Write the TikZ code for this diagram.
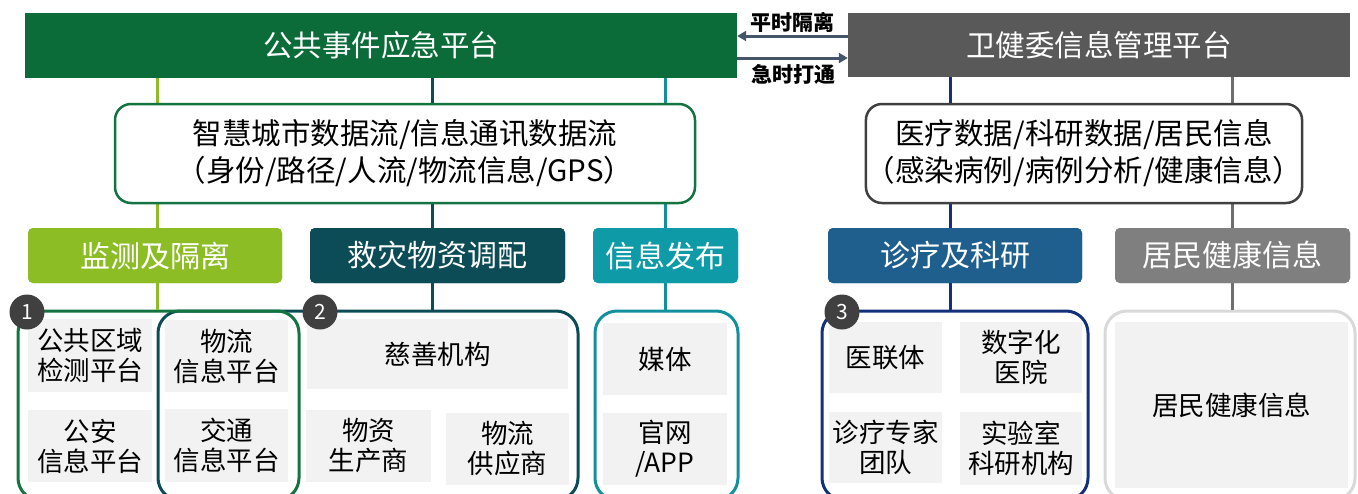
\documentclass[tikz,border=0pt]{standalone}
\usepackage{fontspec}
\setmainfont{Noto Sans CJK SC}
\usetikzlibrary{arrows.meta}
\definecolor{topgreen}{HTML}{0B6C3A}
\definecolor{topgrey}{HTML}{595959}
\definecolor{catlg}{HTML}{8CBD24}
\definecolor{catdt}{HTML}{0C4C56}
\definecolor{catteal}{HTML}{0E9AA7}
\definecolor{catblue}{HTML}{1E5F8E}
\definecolor{catgrey}{HTML}{7F7F7F}
\definecolor{gOne}{HTML}{137442}
\definecolor{gInfo}{HTML}{13909D}
\definecolor{gThree}{HTML}{13307A}
\definecolor{gRes}{HTML}{D9D9D9}
\definecolor{arrcol}{HTML}{44546A}
\definecolor{circ}{HTML}{404040}
\definecolor{cellfill}{HTML}{F2F2F2}
\definecolor{lineres}{HTML}{6E6E6E}
\begin{document}
\begin{tikzpicture}[x=1pt,y=-1pt,
  bar/.style={minimum height=65, inner sep=0, text=white, font=\fontsize{29.5}{34}\selectfont},
  cat/.style={rounded corners=5, minimum height=55, inner sep=0, text=white, font=\fontsize{30}{34}\selectfont},
  dbox/.style={draw, fill=white, line width=2.5, rounded corners=16, minimum height=99, inner sep=0, align=center, font=\fontsize{29.5}{37}\selectfont},
  grp/.style={draw, line width=3, rounded corners=22, inner sep=0},
  cell/.style={fill=cellfill, inner sep=0, align=center, font=\fontsize{26.5}{30}\selectfont},
  num/.style={circle, fill=circ, minimum size=35, inner sep=0, text=white, font=\fontsize{21}{21}\selectfont},
  vline/.style={line width=3},
  arr/.style={line width=3, draw=arrcol, -{Triangle[length=9,width=10]}},
  lbl/.style={inner sep=0, font=\bfseries\fontsize{21}{22}\selectfont}
]
\useasboundingbox (0,0) rectangle (1358,493);
\begin{scope}
\clip (0,0) rectangle (1358,493);
% anchors for vertical lines
\coordinate (x1) at (157,0);
\coordinate (x2) at (432,0);
\coordinate (x3) at (665,0);
\coordinate (x4) at (950,0);
\coordinate (x5) at (1232,0);
% bars
\node[bar, fill=topgreen, minimum width=712] (top) at (381,45.5) {公共事件应急平台};
\node[bar, fill=topgrey, minimum width=502, minimum height=64] (wjw) at (1099,45) {卫健委信息管理平台};
% category boxes
\node[cat, fill=catlg, minimum width=254] (c1) at (155,255.5) {监测及隔离};
\node[cat, fill=catdt, minimum width=255] (c2) at (437.5,255.5) {救灾物资调配};
\node[cat, fill=catteal, minimum width=145] (c3) at (665.5,255.5) {信息发布};
\node[cat, fill=catblue, minimum width=254] (c4) at (955,255.5) {诊疗及科研};
\node[cat, fill=catgrey, minimum width=235] (c5) at (1232.5,255.5) {居民健康信息};
% groups
\node[grp, draw=catdt, minimum width=420, minimum height=189] (g2) at (368,405.5) {};
\node[grp, draw=gOne, minimum width=281, minimum height=189] (g1) at (158.5,405.5) {};
\node[grp, draw=gInfo, minimum width=143, minimum height=189] (g3) at (666.5,405.5) {};
\node[grp, draw=gThree, minimum width=266, minimum height=189] (g4) at (955,405.5) {};
\node[grp, draw=gRes, minimum width=250, minimum height=189] (g5) at (1230,405.5) {};
% vertical lines
\draw[vline, draw=catlg] (x1 |- top.south) -- (x1 |- c1.north);
\draw[vline, draw=catlg] (x1 |- c1.south) -- (x1 |- g1.north);
\draw[vline, draw=catdt] (x2 |- top.south) -- (x2 |- c2.north);
\draw[vline, draw=catdt] (x2 |- c2.south) -- (x2 |- g2.north);
\draw[vline, draw=gInfo] (x3 |- top.south) -- (x3 |- c3.north);
\draw[vline, draw=gInfo] (x3 |- c3.south) -- (x3 |- g3.north);
\draw[vline, draw=gThree] (x4 |- wjw.south) -- (x4 |- c4.north);
\draw[vline, draw=gThree] (x4 |- c4.south) -- (x4 |- g4.north);
\draw[vline, draw=lineres] (x5 |- wjw.south) -- (x5 |- c5.north);
\draw[vline, draw=lineres] (x5 |- c5.south) -- (x5 |- g5.north);
% data boxes
\node[dbox, draw=gOne, minimum width=580] (d1) at (405,153.5) {智慧城市数据流/信息通讯数据流\\（身份/路径/人流/物流信息/GPS）};
\node[dbox, draw=circ, minimum width=432] (d2) at (1084,153.5) {医疗数据/科研数据/居民信息\\（感染病例/病例分析/健康信息）};
% redraw category boxes above lines
\node[cat, fill=catlg, minimum width=254] at (c1) {监测及隔离};
\node[cat, fill=catdt, minimum width=255] at (c2) {救灾物资调配};
\node[cat, fill=catteal, minimum width=145] at (c3) {信息发布};
\node[cat, fill=catblue, minimum width=254] at (c4) {诊疗及科研};
\node[cat, fill=catgrey, minimum width=235] at (c5) {居民健康信息};
% arrows
\coordinate (p1) at ([yshift=9]wjw.west);
\coordinate (p2) at ([yshift=-12.5]top.east);
\draw[arr] (p1) -- (p1 -| top.east);
\draw[arr] (p2) -- (p2 -| wjw.west);
\node[lbl] (l1) at (792,22) {平时隔离};
\node[lbl] (l2) at (793,74) {急时打通};
% cells
\node[cell, minimum width=124, minimum height=73] (a1) at (90,355.5) {公共区域\\检测平台};
\node[cell, minimum width=124, minimum height=72] (a2) at (90,446) {公安\\信息平台};
\node[cell, minimum width=123, minimum height=72] (a3) at (226.5,356) {物流\\信息平台};
\node[cell, minimum width=123, minimum height=73] (a4) at (226.5,445.5) {交通\\信息平台};
\node[cell, minimum width=261, minimum height=70] (b1) at (437.5,354) {慈善机构};
\node[cell, minimum width=125, minimum height=72] (b2) at (368.5,446) {物资\\生产商};
\node[cell, minimum width=123, minimum height=72] (b3) at (507.5,449) {物流\\供应商};
\node[cell, minimum width=124, minimum height=72] (m1) at (665,359) {媒体};
\node[cell, minimum width=124, minimum height=72] (m2) at (665,449) {官网\\/APP};
\node[cell, minimum width=113, minimum height=71] (e1) at (885.5,357.5) {医联体};
\node[cell, minimum width=122, minimum height=71] (e2) at (1021,357.5) {数字化\\医院};
\node[cell, minimum width=113, minimum height=71] (e3) at (885.5,447.5) {诊疗专家\\团队};
\node[cell, minimum width=122, minimum height=73] (e4) at (1021,448.5) {实验室\\科研机构};
\node[cell, minimum width=233, minimum height=166] (f1) at (1231.5,405) {居民健康信息};
% numbers
\node[num] (n1) at (27,312) {1};
\node[num] (n2) at (320,312) {2};
\node[num] (n3) at (842,312) {3};
\end{scope}
\end{tikzpicture}
\end{document}
